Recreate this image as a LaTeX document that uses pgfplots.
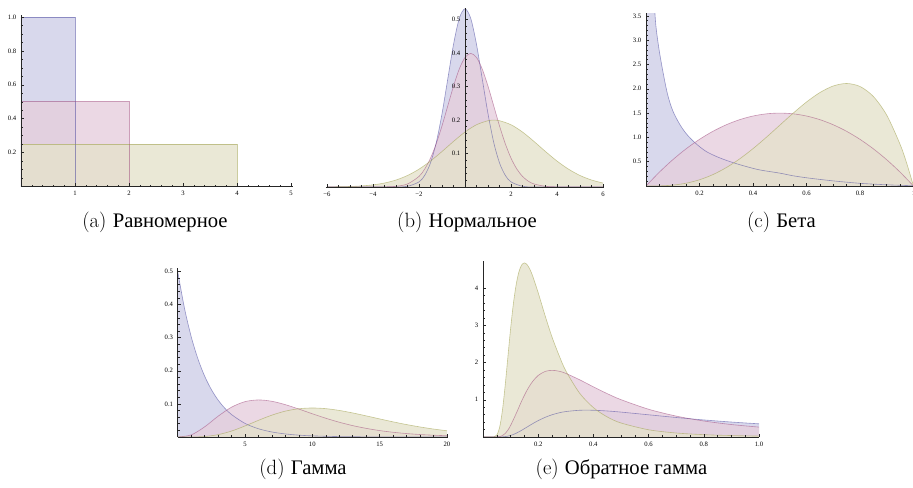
\documentclass[border=0pt]{standalone}
\usepackage{fontspec}
\newfontfamily\lib{Liberation Serif}
\usepackage{pgfplots}
\pgfplotsset{compat=1.18}
\usepackage{pgfplotstable}

% Mathematica default hues (lines) and lighter fills
\definecolor{cb}{HTML}{3F3D99}
\definecolor{cp}{HTML}{993D74}
\definecolor{co}{HTML}{97993D}
\definecolor{fb}{RGB}{206,206,231}
\definecolor{fp}{RGB}{230,206,221}
\definecolor{fo}{RGB}{229,226,204}

% (b) normal
\pgfplotstableread{
x y
-6 0
-4 0
-3 0.0002
-2.5 0.0021
-2 0.0152
-1.75 0.0350
-1.5 0.0720
-1.25 0.1327
-1 0.2187
-0.75 0.3226
-0.5 0.4259
-0.25 0.5032
0 0.5319
0.25 0.5032
0.5 0.4259
0.75 0.3226
1 0.2187
1.25 0.1327
1.5 0.0720
1.75 0.0350
2 0.0152
2.5 0.0021
3 0.0002
4 0
6 0
}\nA
\pgfplotstableread{
x y
-6 0
-4 0.0001
-3.5 0.0004
-3 0.0020
-2.5 0.0091
-2 0.0317
-1.75 0.0540
-1.5 0.0863
-1.25 0.1295
-1 0.1826
-0.75 0.2420
-0.5 0.3011
-0.25 0.3521
0 0.3867
0.25 0.3989
0.5 0.3867
0.75 0.3521
1 0.3011
1.25 0.2420
1.5 0.1826
1.75 0.1295
2 0.0863
2.25 0.0540
2.5 0.0317
2.75 0.0175
3 0.0091
3.5 0.0020
4 0.0004
4.5 0.0001
6 0
}\nB
\pgfplotstableread{
x y
-6 0.0003
-5.5 0.0007
-5 0.0015
-4.5 0.0032
-4 0.0064
-3.5 0.0119
-3 0.0209
-2.5 0.0344
-2 0.0533
-1.5 0.0775
-1 0.1059
-0.5 0.1360
0 0.1641
0.5 0.1859
1 0.1979
1.25 0.1995
1.5 0.1979
2 0.1859
2.5 0.1641
3 0.1360
3.5 0.1059
4 0.0775
4.5 0.0533
5 0.0344
5.5 0.0209
6 0.0119
}\nC

% (c) beta
\pgfplotstableread{
x y
0.004 22
0.008 12
0.015 7.3
0.024 4.75
0.034 3.5
0.045 2.95
0.06 2.45
0.08 1.9
0.10 1.55
0.125 1.28
0.15 1.08
0.183 0.89
0.225 0.71
0.275 0.58
0.326 0.48
0.375 0.40
0.426 0.33
0.5 0.265
0.55 0.21
0.613 0.16
0.7 0.105
0.8 0.055
0.9 0.025
1.0 0.005
}\bA
\pgfplotstableread{
x y
0 0
0.05 0.285
0.1 0.54
0.15 0.765
0.2 0.96
0.25 1.125
0.3 1.26
0.35 1.365
0.4 1.44
0.45 1.485
0.5 1.5
0.55 1.485
0.6 1.44
0.65 1.365
0.7 1.26
0.75 1.125
0.8 0.96
0.85 0.765
0.9 0.54
0.95 0.285
1 0
}\bB
\pgfplotstableread{
x y
0 0
0.05 0.0024
0.1 0.018
0.15 0.0574
0.2 0.128
0.25 0.2344
0.3 0.378
0.35 0.5574
0.4 0.768
0.45 1.0024
0.5 1.25
0.55 1.4974
0.6 1.728
0.65 1.9224
0.7 2.058
0.75 2.1094
0.8 2.048
0.85 1.8424
0.9 1.458
0.95 0.8574
0.975 0.4634
1 0
}\bC

% (d) gamma
\pgfplotstableread{
x y
0 0.5
0.5 0.3894
1 0.3033
1.5 0.2362
2 0.1839
2.5 0.1433
3 0.1116
3.5 0.0869
4 0.0677
5 0.0410
6 0.0249
7 0.0151
8 0.0092
9 0.0056
10 0.0034
12 0.0012
14 0.0005
17 0.0001
20 0
}\gA
\pgfplotstableread{
x y
0 0
1 0.0063
2 0.0307
3 0.0628
4 0.0902
5 0.1069
6 0.1120
7 0.1079
8 0.0977
9 0.0844
10 0.0702
11 0.0567
12 0.0446
13 0.0344
14 0.0261
15 0.0194
16 0.0143
17 0.0104
18 0.0075
19 0.0054
20 0.0038
}\gB
\pgfplotstableread{
x y
0 0
1 0.0001
2 0.0015
3 0.0071
4 0.0180
5 0.0334
6 0.0504
7 0.0661
8 0.0782
9 0.0854
10 0.0877
11 0.0857
12 0.0803
13 0.0727
14 0.0639
15 0.0547
16 0.0458
17 0.0376
18 0.0304
19 0.0241
20 0.0189
}\gC

% (e) inverse gamma
\pgfplotstableread{
x y
0 0
0.04 0
0.05 0.0001
0.06 0.0008
0.08 0.0099
0.10 0.0415
0.12 0.1005
0.14 0.1805
0.16 0.2698
0.18 0.3589
0.20 0.441
0.225 0.5285
0.25 0.5974
0.275 0.6485
0.30 0.684
0.35 0.7183
0.40 0.7188
0.45 0.6996
0.50 0.6694
0.60 0.5969
0.70 0.5243
0.80 0.4589
0.90 0.4024
1.00 0.3543
}\iA
\pgfplotstableread{
x y
0 0
0.03 0
0.04 0.0001
0.05 0.0014
0.06 0.0097
0.07 0.0364
0.08 0.0932
0.09 0.185
0.10 0.311
0.12 0.628
0.14 0.967
0.16 1.265
0.18 1.495
0.20 1.654
0.225 1.762
0.25 1.792
0.275 1.769
0.30 1.710
0.35 1.539
0.40 1.348
0.45 1.166
0.50 1.004
0.60 0.746
0.70 0.562
0.80 0.430
0.90 0.335
1.00 0.266
}\iB
\pgfplotstableread{
x y
0 0
0.03 0
0.04 0.0037
0.05 0.0516
0.06 0.253
0.07 0.697
0.08 1.365
0.09 2.143
0.10 2.916
0.11 3.582
0.12 4.090
0.13 4.437
0.14 4.624
0.15 4.679
0.16 4.631
0.17 4.507
0.18 4.327
0.20 3.876
0.225 3.262
0.25 2.689
0.275 2.205
0.30 1.781
0.35 1.178
0.40 0.790
0.45 0.540
0.50 0.3765
0.60 0.1943
0.70 0.1075
0.80 0.0630
0.90 0.0388
1.00 0.0249
}\iC

\pgfplotsset{
  distr/.style={
    scale only axis, anchor=south west,
    axis lines=middle, axis line style={-, black!85, line width=0.45pt},
    tick align=inside, major tick length=2.6pt, minor tick length=1.4pt,
    every tick/.append style={black!85, line width=0.4pt},
    tick label style={font=\fontsize{5}{6}\selectfont\lib},
    axis on top,
  },
  fl/.style={draw=none, fill=#1, fill opacity=0.8},
  ln/.style={draw=#1, draw opacity=0.5, line width=0.45pt},
}

\begin{document}
\begin{tikzpicture}

% (a) uniform
\begin{axis}[distr, at={(15.75pt,226.1pt)}, width=203.7pt, height=128.4pt,
  xmin=0, xmax=5.03, ymin=0, ymax=1.01,
  xtick={0,1,2,3,4,5}, xticklabels={,1,2,3,4,5}, minor x tick num=4,
  ytick={0,0.2,0.4,0.6,0.8,1}, yticklabels={,0.2,0.4,0.6,0.8,1.0}, minor y tick num=3]
  \addplot[fl=fb] coordinates {(0,1) (1,1) (1,0)} \closedcycle;
  \addplot[fl=fp] coordinates {(0,0.5) (2,0.5) (2,0)} \closedcycle;
  \addplot[fl=fo] coordinates {(0,0.25) (4,0.25) (4,0)} \closedcycle;
  \addplot[ln=cb] coordinates {(0,1) (1,1) (1,0)};
  \addplot[ln=cp] coordinates {(0,0.5) (2,0.5) (2,0)};
  \addplot[ln=co] coordinates {(0,0.25) (4,0.25) (4,0)};
\end{axis}

% (b) normal
\begin{axis}[distr, at={(244.4pt,225.75pt)}, width=208.7pt, height=134.4pt,
  xmin=-6.05, xmax=6.05, ymin=0, ymax=0.535,
  xtick={-6,-4,-2,0,2,4,6}, xticklabels={−6,−4,−2,,2,4,6}, minor x tick num=3,
  ytick={0,0.1,0.2,0.3,0.4,0.5}, yticklabels={,0.1,0.2,0.3,0.4,0.5}, minor y tick num=4]
  \addplot[fl=fb, smooth] table {\nA} \closedcycle;
  \addplot[fl=fp, smooth] table {\nB} \closedcycle;
  \addplot[fl=fo, smooth] table {\nC} \closedcycle;
  \addplot[ln=cb, smooth] table {\nA};
  \addplot[ln=cp, smooth] table {\nB};
  \addplot[ln=co, smooth] table {\nC};
\end{axis}

% (c) beta
\begin{axis}[distr, at={(484.5pt,226.5pt)}, width=202.6pt, height=129.4pt,
  xmin=0, xmax=1.01, ymin=0, ymax=3.55,
  xtick={0,0.2,0.4,0.6,0.8,1}, xticklabels={,0.2,0.4,0.6,0.8,1}, minor x tick num=3,
  ytick={0,0.5,1,1.5,2,2.5,3,3.5}, yticklabels={,0.5,1.0,1.5,2.0,2.5,3.0,3.5}, minor y tick num=4]
  \addplot[fl=fb, smooth] table {\bA} \closedcycle;
  \addplot[fl=fp, smooth] table {\bB} \closedcycle;
  \addplot[fl=fo, smooth] table {\bC} \closedcycle;
  \addplot[ln=cb, smooth] table {\bA};
  \addplot[ln=cp, smooth] table {\bB};
  \addplot[ln=co, smooth] table {\bC};
\end{axis}

% (d) gamma
\begin{axis}[distr, at={(133.3pt,38.25pt)}, width=202.9pt, height=126.6pt,
  xmin=0, xmax=20.1, ymin=0, ymax=0.51,
  xtick={0,5,10,15,20}, xticklabels={,5,10,15,20}, minor x tick num=4,
  ytick={0,0.1,0.2,0.3,0.4,0.5}, yticklabels={,0.1,0.2,0.3,0.4,0.5}, minor y tick num=4]
  \addplot[fl=fb, smooth] table {\gA} \closedcycle;
  \addplot[fl=fp, smooth] table {\gB} \closedcycle;
  \addplot[fl=fo, smooth] table {\gC} \closedcycle;
  \addplot[ln=cb, smooth] table {\gA};
  \addplot[ln=cp, smooth] table {\gB};
  \addplot[ln=co, smooth] table {\gC};
\end{axis}

% (e) inverse gamma
\begin{axis}[distr, at={(362.25pt,38.25pt)}, width=207pt, height=131.7pt,
  xmin=0, xmax=1.0, ymin=0, ymax=4.72,
  xtick={0,0.2,0.4,0.6,0.8,1}, xticklabels={,0.2,0.4,0.6,0.8,1.0}, minor x tick num=3,
  ytick={0,1,2,3,4}, yticklabels={,1,2,3,4}, minor y tick num=4]
  \addplot[fl=fb, smooth] table {\iA} \closedcycle;
  \addplot[fl=fp, smooth] table {\iB} \closedcycle;
  \addplot[fl=fo, smooth] table {\iC} \closedcycle;
  \addplot[ln=cb, smooth] table {\iA};
  \addplot[ln=cp, smooth] table {\iB};
  \addplot[ln=co, smooth] table {\iC};
\end{axis}

\begin{scope}[font=\fontsize{15.5}{18}\selectfont]
  \node[anchor=base] at (116.25pt,195pt) {(a) {\lib Равномерное}};
  \node[anchor=base] at (350.25pt,195pt) {(b) {\lib Нормальное}};
  \node[anchor=base] at (586.1pt,195pt) {(c) {\lib Бета}};
  \node[anchor=base] at (227.25pt,9.75pt) {(d) {\lib Гамма}};
  \node[anchor=base] at (466.1pt,9.75pt) {(e) {\lib Обратное гамма}};
\end{scope}

\pgfresetboundingbox
\useasboundingbox (0,0) rectangle (684.75pt,366pt);
\end{tikzpicture}
\end{document}
